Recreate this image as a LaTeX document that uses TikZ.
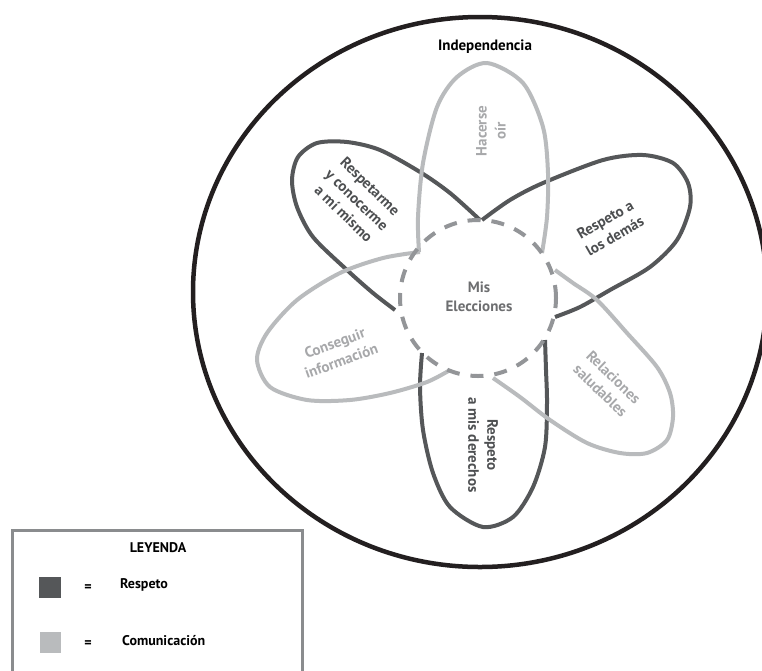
\documentclass[tikz,border=0pt]{standalone}
\usepackage{fontspec}
\setmainfont{PT Sans}
\definecolor{darkp}{HTML}{555759}
\definecolor{lightp}{HTML}{B9BBBD}
\definecolor{dashc}{HTML}{939598}
\definecolor{outerc}{HTML}{231F20}
\definecolor{midtext}{HTML}{6D6E70}
\definecolor{darktext}{HTML}{4D4F51}
\definecolor{boxc}{HTML}{8A8C8E}
\begin{document}
\begin{tikzpicture}[x=1pt,y=-1pt,
  every node/.style={font=\bfseries\fontsize{15}{19}\selectfont, inner sep=0pt},
  darkpetal/.style={draw=darkp, line width=4pt},
  lightpetal/.style={draw=lightp, line width=4pt},
  outerring/.style={draw=outerc, line width=4.5pt},
  innerring/.style={draw=dashc, line width=4pt, dash pattern=on 13pt off 11pt},
  darklabel/.style={text=darktext, align=center},
  lightlabel/.style={text=lightp!90!black, align=center},
  legendtext/.style={font=\bfseries\fontsize{14}{17}\selectfont, text=black}]
\clip (0,0) rectangle (762,670);
\fill[white] (0,0) rectangle (762,670);

% outer ring
\draw[outerring] (480,292) ellipse [x radius=287pt, y radius=275pt];
\node (indep) at (485,47) {Independencia};

% dark petals
\draw[darkpetal] plot[smooth] coordinates {(480,220) (450,193) (420,172) (380,150) (347,142) (317,143) (298,157) (292,180) (297,207) (313,237) (347,270) (373,293) (395,310)};
\draw[darkpetal] plot[smooth] coordinates {(482,220) (510,200) (543,183) (603,160) (643,155) (673,163) (688,183) (690,207) (677,240) (650,267) (610,290) (580,307) (555,317)};
\draw[darkpetal] plot[smooth] coordinates {(422,353) (420,387) (423,430) (433,473) (450,507) (483,527) (513,517) (533,487) (545,447) (547,403) (546,370) (545,340)};

% light petals
\draw[lightpetal] plot[smooth] coordinates {(419,252) (418,217) (423,163) (437,107) (457,77) (487,63) (523,83) (543,127) (548,173) (547,217) (542,253)};
\draw[lightpetal] plot[smooth] coordinates {(420,252) (383,258) (340,273) (297,300) (267,333) (257,360) (270,387) (307,400) (350,400) (390,393) (427,382) (450,370)};
\draw[lightpetal] plot[smooth] coordinates {(555,270) (573,283) (597,300) (627,333) (657,367) (670,393) (673,417) (667,440) (647,453) (620,453) (587,443) (550,420) (520,397) (493,378)};

% centre
\draw[innerring] (478,298) circle [radius=78pt];
\node[text=midtext, align=center] (center) at (479,297) {Mis\\Elecciones};

% petal labels
\node[lightlabel, rotate=90] (hacerse) at (491,131) {Hacerse\\oír};
\node[darklabel, rotate=-44] (respetarme) at (357,200) {Respetarme\\y conocerme\\a mí mismo};
\node[darklabel, rotate=30] (demas) at (610,228) {Respeto a\\los demás};
\node[lightlabel, rotate=20] (conseguir) at (338,352) {Conseguir\\información};
\node[lightlabel, rotate=-44] (relaciones) at (607,384) {Relaciones\\saludables};
\node[darklabel, rotate=-90] (derechos) at (483,445) {Respeto\\a mis derechos};

% legend
\draw[draw=boxc, line width=3pt] (12,530) rectangle (302,700);
\node[legendtext] (leyenda) at (158,548) {LEYENDA};
\fill[darkp] (39,577) rectangle (61,598);
\node[legendtext] (eq1) at (88,588) {=};
\node[legendtext, anchor=west] (respeto) at (120,585) {Respeto};
\fill[lightp] (40,632) rectangle (61,653);
\node[legendtext] (eq2) at (88,644) {=};
\node[legendtext, anchor=west] (comun) at (122,641) {Comunicación};
\end{tikzpicture}
\end{document}
